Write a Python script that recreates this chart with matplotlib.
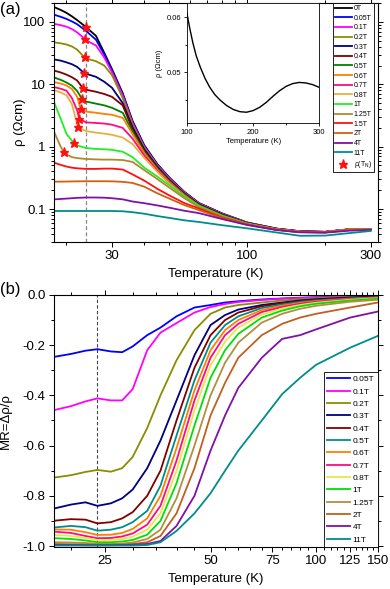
import numpy as np
import matplotlib
matplotlib.use('Agg')
import matplotlib.pyplot as plt
from matplotlib.ticker import FixedLocator, FuncFormatter, NullFormatter

plt.rcParams['font.family'] = ['Liberation Sans', 'DejaVu Sans']
plt.rcParams['axes.unicode_minus'] = False
plt.rcParams['mathtext.fontset'] = 'custom'
plt.rcParams['mathtext.rm'] = 'Liberation Sans'

# ---------------- panel (a) data: resistivity (Ohm cm) ----------------
T_a = [18, 19, 20, 21, 22, 23.8, 26, 28, 30, 33, 36, 40, 45, 50, 57, 65, 80, 100, 130, 160, 200, 250, 300]
fields_a = ['0T', '0.05T', '0.1T', '0.2T', '0.3T', '0.4T', '0.5T', '0.6T', '0.7T', '0.8T',
            '1T', '1.25T', '1.5T', '2T', '4T', '11T']
colors_a = ['#000000', '#0000FF', '#FF00FF', '#8C8C00', '#000080', '#800000', '#008000', '#FF8000',
            '#FF0A80', '#E8B040', '#22EE22', '#B08830', '#FF1010', '#D06010', '#8010A8', '#008C8C']
rho_0T = [172, 156, 140, 123, 107, 83, 60, 32, 17.5, 7.2, 2.6, 1.05, 0.52, 0.32, 0.19, 0.125, 0.085, 0.0607, 0.0485, 0.0440, 0.0431, 0.0475, 0.0473]
rho_005T = [130, 121, 112, 102, 92, 72, 52, 30, 16.5, 6.9, 2.5, 1.02, 0.51, 0.315, 0.188, 0.124, 0.084, 0.0605, 0.0484, 0.0439, 0.0430, 0.0474, 0.0472]
rho_01T = [93, 89, 84, 77, 68, 51, 42, 27, 15.5, 6.6, 2.4, 0.99, 0.50, 0.31, 0.186, 0.123, 0.0835, 0.0603, 0.0483, 0.0438, 0.0430, 0.0474, 0.0471]
rho_02T = [47, 45.5, 43.5, 40.5, 36, 26, 23.5, 20, 14, 6.0, 2.25, 0.95, 0.485, 0.30, 0.182, 0.121, 0.0825, 0.0600, 0.0481, 0.0437, 0.0429, 0.0473, 0.0470]
rho_03T = [25, 24, 22.5, 21, 19, 14.8, 13.2, 11, 8.8, 5.0, 2.05, 0.90, 0.47, 0.292, 0.178, 0.119, 0.0815, 0.0597, 0.0480, 0.0436, 0.0428, 0.0472, 0.0470]
rho_04T = [16.5, 15.5, 14.3, 13, 11.5, 8.2, 7.6, 7.0, 6.3, 4.6, 1.9, 0.86, 0.455, 0.285, 0.175, 0.117, 0.0805, 0.0593, 0.0478, 0.0435, 0.0428, 0.0472, 0.0469]
rho_05T = [12.8, 11.8, 10.7, 9.5, 7.8, 5.3, 4.9, 4.6, 4.2, 3.5, 1.75, 0.82, 0.44, 0.278, 0.171, 0.115, 0.0795, 0.0588, 0.0476, 0.0434, 0.0427, 0.0471, 0.0469]
rho_06T = [10.8, 10.3, 9.6, 8.4, 6.3, 3.65, 3.5, 3.35, 3.25, 2.9, 1.6, 0.78, 0.425, 0.27, 0.168, 0.113, 0.078, 0.0583, 0.0474, 0.0433, 0.0427, 0.0471, 0.0468]
rho_07T = [9.0, 8.5, 7.9, 6.0, 3.8, 2.45, 2.4, 2.35, 2.25, 2.0, 1.35, 0.72, 0.41, 0.262, 0.165, 0.111, 0.077, 0.0578, 0.0472, 0.0432, 0.0426, 0.0470, 0.0468]
rho_08T = [8.0, 7.4, 6.7, 4.8, 2.3, 1.78, 1.68, 1.62, 1.55, 1.4, 1.1, 0.66, 0.39, 0.255, 0.162, 0.11, 0.076, 0.0574, 0.0470, 0.0431, 0.0426, 0.0470, 0.0467]
rho_1T = [4.9, 2.8, 1.6, 1.25, 1.05, 0.95, 0.92, 0.91, 0.89, 0.83, 0.68, 0.46, 0.33, 0.24, 0.16, 0.112, 0.077, 0.0578, 0.0469, 0.0430, 0.0425, 0.0469, 0.0467]
rho_125T = [1.65, 1.0, 0.75, 0.68, 0.655, 0.635, 0.625, 0.62, 0.62, 0.61, 0.57, 0.42, 0.30, 0.22, 0.15, 0.107, 0.075, 0.0572, 0.0467, 0.0429, 0.0424, 0.0468, 0.0466]
rho_15T = [0.55, 0.51, 0.48, 0.46, 0.45, 0.44, 0.44, 0.445, 0.445, 0.43, 0.36, 0.285, 0.21, 0.165, 0.125, 0.102, 0.073, 0.0565, 0.0465, 0.0428, 0.0423, 0.0467, 0.0465]
rho_2T = [0.275, 0.275, 0.276, 0.277, 0.278, 0.279, 0.279, 0.279, 0.278, 0.273, 0.262, 0.228, 0.178, 0.147, 0.116, 0.096, 0.071, 0.0558, 0.0462, 0.0426, 0.0421, 0.0465, 0.0464]
rho_4T = [0.143, 0.145, 0.147, 0.149, 0.151, 0.153, 0.153, 0.152, 0.149, 0.143, 0.132, 0.124, 0.114, 0.105, 0.094, 0.086, 0.069, 0.0555, 0.0460, 0.0423, 0.0418, 0.0450, 0.0462]
rho_11T = [0.093, 0.093, 0.093, 0.093, 0.093, 0.093, 0.093, 0.093, 0.093, 0.092, 0.089, 0.084, 0.077, 0.072, 0.066, 0.062, 0.055, 0.049, 0.042, 0.0372, 0.0375, 0.0412, 0.0445]
rho_a = [rho_0T, rho_005T, rho_01T, rho_02T, rho_03T, rho_04T, rho_05T, rho_06T, rho_07T, rho_08T,
         rho_1T, rho_125T, rho_15T, rho_2T, rho_4T, rho_11T]

# rho(T_N) stars
star_fields = ['0T', '0.1T', '0.2T', '0.3T', '0.4T', '0.5T', '0.6T', '0.7T', '0.8T', '1T', '1.25T']
T_N = [23.8, 23.6, 23.5, 23.3, 23.2, 23.0, 22.7, 22.4, 22.1, 21.4, 19.5]
rho_TN = [83, 53, 27, 15.4, 8.6, 5.8, 4.0, 2.8, 2.06, 1.16, 0.83]
T_dash = 23.8

# inset: 0T curve 100-300 K
T_in = [100, 104, 109, 114, 120, 127, 134, 142, 150, 160, 170, 180, 190, 200, 210, 220, 230, 240, 250, 260, 270, 280, 290, 300]
rho_in = [0.0607, 0.0581, 0.0553, 0.0530, 0.0510, 0.0490, 0.0474, 0.0460, 0.0450, 0.0440, 0.0433, 0.0429,
          0.0428, 0.0431, 0.0437, 0.0446, 0.0457, 0.0467, 0.0475, 0.0480, 0.0482, 0.0481, 0.0478, 0.0473]

# ---------------- panel (b) data: MR ----------------
T_b = [18, 20, 22, 23.8, 26, 28, 30, 33, 36, 40, 45, 50, 55, 60, 70, 80, 90, 100, 125, 150]
fields_b = ['0.05T', '0.1T', '0.2T', '0.3T', '0.4T', '0.5T', '0.6T', '0.7T', '0.8T', '1T', '1.25T', '2T', '4T', '11T']
colors_b = ['#0000FF', '#FF00FF', '#8C8C00', '#000080', '#800000', '#008C8C', '#FF8000', '#FF0A80',
            '#E6E650', '#00E000', '#B0903C', '#C06020', '#8010A8', '#008C8C']
mr_005T = [-0.246, -0.235, -0.222, -0.216, -0.225, -0.228, -0.205, -0.16, -0.13, -0.085, -0.05, -0.04, -0.03, -0.025, -0.018, -0.014, -0.011, -0.009, -0.006, -0.004]
mr_01T = [-0.458, -0.443, -0.424, -0.412, -0.42, -0.42, -0.375, -0.22, -0.15, -0.112, -0.07, -0.048, -0.036, -0.028, -0.02, -0.015, -0.012, -0.01, -0.006, -0.004]
mr_02T = [-0.727, -0.718, -0.705, -0.697, -0.704, -0.69, -0.645, -0.53, -0.40, -0.26, -0.14, -0.075, -0.05, -0.04, -0.03, -0.022, -0.017, -0.013, -0.008, -0.005]
mr_03T = [-0.85, -0.835, -0.826, -0.84, -0.83, -0.81, -0.775, -0.69, -0.58, -0.42, -0.24, -0.12, -0.08, -0.058, -0.04, -0.03, -0.022, -0.017, -0.01, -0.006]
mr_04T = [-0.899, -0.893, -0.895, -0.91, -0.905, -0.89, -0.865, -0.8, -0.7, -0.5, -0.29, -0.16, -0.1, -0.07, -0.045, -0.033, -0.025, -0.019, -0.012, -0.008]
mr_05T = [-0.926, -0.92, -0.925, -0.939, -0.935, -0.925, -0.905, -0.86, -0.76, -0.56, -0.34, -0.19, -0.12, -0.085, -0.052, -0.038, -0.028, -0.022, -0.014, -0.009]
mr_06T = [-0.934, -0.935, -0.945, -0.956, -0.955, -0.948, -0.932, -0.89, -0.8, -0.61, -0.38, -0.22, -0.14, -0.1, -0.06, -0.043, -0.032, -0.025, -0.016, -0.011]
mr_07T = [-0.943, -0.948, -0.96, -0.969, -0.968, -0.962, -0.95, -0.915, -0.84, -0.66, -0.42, -0.25, -0.16, -0.115, -0.068, -0.048, -0.035, -0.027, -0.017, -0.012]
mr_08T = [-0.956, -0.96, -0.968, -0.976, -0.976, -0.972, -0.963, -0.935, -0.87, -0.7, -0.46, -0.28, -0.185, -0.13, -0.078, -0.054, -0.04, -0.031, -0.019, -0.013]
mr_1T = [-0.969, -0.972, -0.978, -0.985, -0.985, -0.982, -0.976, -0.955, -0.9, -0.75, -0.52, -0.33, -0.22, -0.155, -0.09, -0.062, -0.045, -0.035, -0.022, -0.015]
mr_125T = [-0.985, -0.986, -0.988, -0.991, -0.992, -0.99, -0.986, -0.972, -0.935, -0.81, -0.6, -0.4, -0.27, -0.19, -0.11, -0.075, -0.055, -0.043, -0.027, -0.019]
mr_2T = [-0.992, -0.993, -0.994, -0.995, -0.995, -0.994, -0.992, -0.985, -0.96, -0.87, -0.69, -0.48, -0.35, -0.25, -0.16, -0.115, -0.09, -0.075, -0.05, -0.03]
mr_4T = [-0.996, -0.996, -0.997, -0.997, -0.997, -0.996, -0.995, -0.992, -0.98, -0.92, -0.8, -0.62, -0.48, -0.37, -0.25, -0.175, -0.16, -0.137, -0.09, -0.066]
mr_11T = [-0.998, -0.998, -0.998, -0.998, -0.998, -0.998, -0.998, -0.996, -0.985, -0.94, -0.87, -0.79, -0.7, -0.62, -0.5, -0.395, -0.33, -0.278, -0.21, -0.163]
mr_b = [mr_005T, mr_01T, mr_02T, mr_03T, mr_04T, mr_05T, mr_06T, mr_07T, mr_08T, mr_1T, mr_125T, mr_2T, mr_4T, mr_11T]

# ---------------- figure ----------------
fig = plt.figure(figsize=(3.9, 5.89), dpi=100)
axA = fig.add_axes([0.1385, 0.589, 0.8305, 0.406])
axB = fig.add_axes([0.1385, 0.0713, 0.8305, 0.4279])

LW = 1.3
handles = []
for name, col, rho in zip(fields_a, colors_a, rho_a):
    T = list(T_a)
    r = list(rho)
    if name in star_fields:
        k = star_fields.index(name)
        if T_N[k] not in T:
            T.append(T_N[k]); r.append(rho_TN[k])
            order = np.argsort(T)
            T = [T[i] for i in order]; r = [r[i] for i in order]
    ln, = axA.plot(T, r, color=col, lw=LW, label=name, solid_joinstyle='round')
    handles.append(ln)
axA.axvline(T_dash, color='#888888', ls=(0, (3, 2)), lw=0.9, zorder=0)
st, = axA.plot(T_N, rho_TN, ls='none', marker='*', color='#FF1010', ms=6.5, mec='#FF1010', zorder=5,
               label=r'ρ(T$_\mathregular{N}$)')
handles.append(st)

axA.set_xscale('log'); axA.set_yscale('log')
axA.set_xlim(17.9, 320)
axA.set_ylim(0.0295, 202)
fmt = FuncFormatter(lambda v, p: '%g' % v)
axA.xaxis.set_major_locator(FixedLocator([30, 100, 300]))
axA.xaxis.set_minor_locator(FixedLocator([20, 40, 50, 60, 70, 80, 90, 200]))
axA.xaxis.set_major_formatter(fmt); axA.xaxis.set_minor_formatter(NullFormatter())
axA.yaxis.set_major_locator(FixedLocator([0.1, 1, 10, 100]))
yminor = [m * d for d in [0.01, 0.1, 1, 10, 100] for m in range(2, 10)]
axA.yaxis.set_minor_locator(FixedLocator(yminor))
axA.yaxis.set_major_formatter(fmt); axA.yaxis.set_minor_formatter(NullFormatter())
axA.set_xlabel('Temperature (K)', fontsize=9.5)
axA.set_ylabel('ρ (Ωcm)', fontsize=9.5)
axA.yaxis.set_label_coords(-0.085, 0.5)
axA.xaxis.set_label_coords(0.5, -0.11)

legA = axA.legend(handles=handles, loc='upper left', bbox_to_anchor=(0.861, 1.0), borderaxespad=0,
                  fontsize=5, handlelength=2.4, handletextpad=0.3, labelspacing=0.38, borderpad=0.3,
                  fancybox=False, edgecolor='black', framealpha=1)
legA.get_frame().set_linewidth(0.6)

# inset
axI = fig.add_axes([0.4795, 0.7907, 0.3392, 0.2043])
axI.plot(T_in, rho_in, color='black', lw=1.0)
axI.set_xlim(100, 300); axI.set_ylim(0.0408, 0.0626)
axI.xaxis.set_major_locator(FixedLocator([100, 200, 300]))
axI.xaxis.set_minor_locator(FixedLocator([150, 250]))
axI.yaxis.set_major_locator(FixedLocator([0.05, 0.06]))
axI.yaxis.set_minor_locator(FixedLocator([0.045, 0.055]))
axI.yaxis.set_major_formatter(FuncFormatter(lambda v, p: '%.2f' % v))
axI.tick_params(which='both', direction='out', labelsize=5.5, width=0.6, pad=1.5)
axI.tick_params(which='major', length=2.5)
axI.tick_params(which='minor', length=1.5)
axI.set_xlabel('Temperature (K)', fontsize=5.5, labelpad=1.5)
axI.set_ylabel('ρ (Ωcm)', fontsize=5.5, labelpad=3)
for s in axI.spines.values():
    s.set_linewidth(0.6)

# panel (b)
for name, col, mr in zip(fields_b, colors_b, mr_b):
    axB.plot(T_b, mr, color=col, lw=LW, label=name, solid_joinstyle='round')
axB.axvline(T_dash, color='#444444', ls=(0, (3, 2)), lw=0.8, zorder=0)
axB.set_xscale('log')
axB.set_xlim(17.9, 150)
axB.set_ylim(-1.004, 0.0)
axB.xaxis.set_major_locator(FixedLocator([25, 50, 75, 100, 125, 150]))
axB.xaxis.set_minor_locator(FixedLocator([20, 30, 35, 40, 45, 55, 60, 65, 70, 80, 85, 90, 95,
                                          105, 110, 115, 120, 130, 135, 140, 145]))
axB.xaxis.set_major_formatter(fmt); axB.xaxis.set_minor_formatter(NullFormatter())
axB.yaxis.set_major_locator(FixedLocator([-1.0, -0.8, -0.6, -0.4, -0.2, 0.0]))
axB.yaxis.set_minor_locator(FixedLocator([-0.9, -0.7, -0.5, -0.3, -0.1]))
axB.yaxis.set_major_formatter(FuncFormatter(lambda v, p: '%.1f' % v if abs(v) > 1e-9 else '0.0'))
axB.set_xlabel('Temperature (K)', fontsize=9.5)
axB.set_ylabel('MR=Δρ/ρ', fontsize=9.5)
axB.yaxis.set_label_coords(-0.13, 0.5)
axB.xaxis.set_label_coords(0.5, -0.105)
legB = axB.legend(loc='lower right', borderaxespad=0, fontsize=6, handlelength=2.8,
                  handletextpad=0.3, labelspacing=0.54, borderpad=0.4,
                  fancybox=False, edgecolor='black', framealpha=1)
legB.get_frame().set_linewidth(0.6)

for ax in (axA, axB):
    ax.tick_params(which='both', direction='out', top=True, right=True, labelsize=9.5, width=0.7)
    ax.tick_params(which='major', length=3.5, pad=2.5)
    ax.tick_params(which='minor', length=2)
    for s in ax.spines.values():
        s.set_linewidth(0.8)

fig.text(0.0, 0.997, '(a)', fontsize=12, va='top', ha='left')
fig.text(0.0, 0.522, '(b)', fontsize=12, va='top', ha='left')

fig.savefig('out.png', dpi=100)
